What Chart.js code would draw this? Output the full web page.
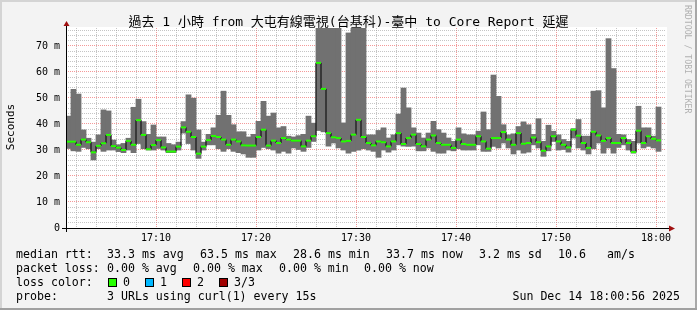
<!DOCTYPE html>
<html>
<head>
<meta charset="utf-8">
<script src="https://cdn.jsdelivr.net/npm/chart.js@4.4.1/dist/chart.umd.min.js"></script>
<style>
  body { margin: 0; background: #fff; }
  #frame { position: relative; width: 697px; height: 310px; background: #f3f3f3; overflow: hidden;
           font-family: "DejaVu Sans Mono", "Noto Sans CJK TC", monospace; color: #000; }
  #chart { position: absolute; left: 0; top: 0; }
  .edge { position: absolute; }
  .t { position: absolute; white-space: pre; font-size: 11.6px; line-height: 14px; }
  .box { position: absolute; width: 7px; height: 7px; border: 1px solid #000; }
  #title { position: absolute; left: 0; top: 14px; width: 697px; text-align: center; font-size: 13px; line-height: 15px; white-space: pre; }
  #ylabel { position: absolute; left: -39px; top: 120px; width: 100px; text-align: center; font-size: 11px; line-height: 14px;
            transform: rotate(-90deg); }
  #brand { position: absolute; left: 684px; top: 5px; writing-mode: vertical-rl; font-size: 8.2px; line-height: 8px;
           color: #b0b0b0; white-space: pre; }
</style>
</head>
<body>
<div id="frame">
  <canvas id="chart" width="697" height="310"></canvas>
  <div id="title">過去 1 小時 from 大屯有線電視(台基科)-臺中 to Core Report 延遲</div>
  <div id="ylabel">Seconds</div>
  <div id="brand">RRDTOOL / TOBI OETIKER</div>

  <div class="t" style="left:16px;top:247px">median rtt:</div>
  <div class="t" style="left:107px;top:247px">33.3 ms avg</div>
  <div class="t" style="left:200px;top:247px">63.5 ms max</div>
  <div class="t" style="left:293px;top:247px">28.6 ms min</div>
  <div class="t" style="left:386px;top:247px">33.7 ms now</div>
  <div class="t" style="left:479px;top:247px">3.2 ms sd</div>
  <div class="t" style="left:558px;top:247px">10.6</div>
  <div class="t" style="left:607px;top:247px">am/s</div>

  <div class="t" style="left:16px;top:261px">packet loss:</div>
  <div class="t" style="left:107px;top:261px">0.00 % avg</div>
  <div class="t" style="left:193px;top:261px">0.00 % max</div>
  <div class="t" style="left:279px;top:261px">0.00 % min</div>
  <div class="t" style="left:364px;top:261px">0.00 % now</div>

  <div class="t" style="left:16px;top:275px">loss color:</div>
  <div class="box" style="left:108px;top:278px;background:#26ff00"></div>
  <div class="t" style="left:123px;top:275px">0</div>
  <div class="box" style="left:145px;top:278px;background:#00b8ff"></div>
  <div class="t" style="left:160px;top:275px">1</div>
  <div class="box" style="left:182px;top:278px;background:#ff0000"></div>
  <div class="t" style="left:197px;top:275px">2</div>
  <div class="box" style="left:219px;top:278px;background:#a00000"></div>
  <div class="t" style="left:234px;top:275px">3/3</div>

  <div class="t" style="left:16px;top:289px">probe:</div>
  <div class="t" style="left:107px;top:289px">3 URLs using curl(1) every 15s</div>
  <div class="t" style="right:17px;top:289px">Sun Dec 14 18:00:56 2025</div>

  <div class="edge" style="left:0;top:0;width:697px;height:2px;background:#d4d4d4"></div>
  <div class="edge" style="left:0;top:0;width:2px;height:310px;background:#d4d4d4"></div>
  <div class="edge" style="left:695px;top:0;width:2px;height:310px;background:#a8a8a8"></div>
  <div class="edge" style="left:0;top:308px;width:697px;height:2px;background:#a0a0a0"></div>
</div>
<script>
// one bin every 30 s, first bin centred at 17:01:15 (minutes after 17:00)
const firstMinute = 1.25;
const stepMinutes = 0.5;

// smoke range (ms), bars above the top of the graph are clipped
const rttMin = [
  30.6, 29.7, 29.5, 31, 30.5, 26.2, 30.5, 29.5, 30, 30,
  29.4, 29, 30, 29, 32.5, 30.5, 30, 30, 30.6, 30,
  29, 29, 30, 36.5, 32.5, 30, 26.8, 30, 32, 32,
  30.5, 29.5, 30.5, 29.5, 29, 28.5, 27.2, 27.2, 30, 31,
  30.5, 30, 28.8, 29.5, 28.8, 30.8, 30.2, 29.5, 31, 33.3,
  37.5, 37, 31.5, 32.7, 30.8, 30, 28.8, 29.5, 30, 30.5,
  30, 29.5, 27.2, 30, 29.2, 30, 32, 31.5, 31.4, 31.5,
  29.7, 29.7, 30.8, 29.5, 28.8, 28.8, 30, 29.7, 30.5, 30,
  30, 30, 32, 29.5, 29.5, 31.4, 30.8, 32.7, 30.8, 28.5,
  30, 28.8, 29.2, 32, 30.8, 27.6, 29.7, 33.3, 30, 30.2,
  29.2, 34.6, 30.8, 30, 28.5, 30.5, 32.7, 28.8, 30.8, 28.8,
  31, 32, 30, 28.8, 32.7, 30.8, 31.4, 30.8, 29.5
];
const rttMax = [
  43, 53.3, 51.5, 37.7, 34.5, 33, 35.8, 45.4, 45, 33.8,
  32, 32.5, 34.5, 46.4, 49.5, 40.9, 36, 39.6, 35, 35,
  32.5, 32, 33, 40.9, 51.2, 49.9, 37.7, 33, 36, 38.5,
  43.3, 52.6, 43.3, 39.7, 37, 37, 35, 36, 41, 48.7,
  43, 44.2, 38.5, 39, 35.3, 35, 35.5, 36, 43, 40.3,
  80, 80, 80, 80, 80, 40.4, 75, 80, 80, 80,
  35.8, 35.8, 37.5, 38.5, 34.6, 35.8, 43.8, 53.8, 46.2, 38.5,
  36.5, 34.6, 36.5, 41, 37.8, 36.5, 34.6, 33.3, 38.5, 36.2,
  35.8, 35.8, 37.2, 44.6, 37.8, 58.8, 50.6, 39.7, 35.8, 36.2,
  39, 40.8, 39.7, 36, 42, 33.3, 39.5, 37.2, 35.8, 34,
  33.3, 38.2, 41.7, 35.3, 35.3, 52.6, 52.8, 46.2, 72.8, 61.3,
  36, 35.8, 34, 33.3, 46.8, 38.5, 38.5, 35.3, 46.5
];
const rttMedian = [
  33.2, 33.2, 32, 34, 33, 29.1, 31.6, 32.6, 35.8, 31.5,
  30.9, 30, 33.5, 32, 41.5, 35.8, 30.3, 31.9, 33.8, 31,
  29.4, 29.4, 31.3, 38.7, 37, 35, 28.6, 31.3, 33.8, 35.4,
  35, 34, 32, 34, 33.3, 31.8, 31.7, 31.7, 35, 37.8,
  31.7, 33.6, 32.7, 34.6, 34, 33.6, 33.6, 31.4, 33.6, 35.3,
  63.5, 53.5, 36.5, 34.9, 34.6, 33.3, 33.5, 35.9, 41.6, 35,
  32.7, 31.8, 33.3, 33, 31.4, 33.3, 36.5, 32.3, 34.6, 35.9,
  32.3, 31.4, 34, 35.6, 32.7, 32, 32, 30.8, 34, 32.3,
  32, 32, 35.3, 33.3, 30.5, 34.6, 34.6, 36.9, 34, 32,
  36.5, 32.4, 32.7, 34.8, 33, 29.7, 31.4, 35.3, 33.3, 32,
  31, 37.8, 35.5, 32.7, 30.8, 37, 35.6, 33.5, 34.6, 32.7,
  32.7, 34.6, 32.7, 29.2, 37.4, 32.7, 35.3, 34.3, 33.7
];

const timeTickMinutes = [10, 20, 30, 40, 50, 60];
const timeTickLabels = ['17:10', '17:20', '17:30', '17:40', '17:50', '18:00'];

const minutes = rttMedian.map((_, i) => firstMinute + i * stepMinutes);

const tickFont = { family: '"DejaVu Sans Mono", monospace', size: 10 };
const minorGrid = 'rgba(150,150,150,0.55)';
const majorGrid = 'rgba(240,110,110,0.7)';

const axesPlugin = {
  id: 'axes',
  beforeDraw(chart) {
    const { ctx, chartArea: a } = chart;
    ctx.save();
    ctx.fillStyle = '#fff';
    ctx.fillRect(a.left, a.top - 1, a.right - a.left + 1, a.bottom - a.top + 1);
    ctx.restore();
  },
  afterDraw(chart) {
    const { ctx, chartArea: a } = chart;
    const x0 = a.left + 0.5, y0 = a.bottom + 0.5;
    ctx.save();
    ctx.strokeStyle = '#000';
    ctx.lineWidth = 1;
    ctx.beginPath();
    ctx.moveTo(a.left - 4, y0); ctx.lineTo(a.right + 5, y0);
    ctx.moveTo(x0, a.bottom + 4); ctx.lineTo(x0, a.top - 3);
    ctx.stroke();
    ctx.fillStyle = '#a01010';
    ctx.beginPath();
    ctx.moveTo(x0, a.top - 7); ctx.lineTo(x0 - 3, a.top - 2); ctx.lineTo(x0 + 3, a.top - 2);
    ctx.closePath(); ctx.fill();
    ctx.beginPath();
    ctx.moveTo(a.right + 9, y0); ctx.lineTo(a.right + 3, y0 - 3); ctx.lineTo(a.right + 3, y0 + 3);
    ctx.closePath(); ctx.fill();
    ctx.restore();
  }
};

new Chart(document.getElementById('chart'), {
  data: {
    datasets: [
      {
        type: 'line',
        order: 0,
        data: minutes.map((m, i) => ({ x: m, y: rttMedian[i] })),
        showLine: false,
        pointStyle: 'line',
        pointRadius: 2.5,
        pointBorderWidth: 2,
        pointBorderColor: '#26ff00'
      },
      {
        type: 'line',
        order: 1,
        data: minutes.map((m, i) => ({ x: m, y: rttMedian[i] })),
        stepped: 'middle',
        borderColor: '#000',
        borderWidth: 1,
        pointRadius: 0
      },
      {
        type: 'bar',
        order: 2,
        data: minutes.map((m, i) => ({ x: m, y: [rttMin[i], rttMax[i]] })),
        backgroundColor: '#717171',
        borderWidth: 0,
        barThickness: 5,
        inflateAmount: 0.4
      }
    ]
  },
  options: {
    responsive: false,
    animation: false,
    devicePixelRatio: 1,
    layout: { padding: { top: 28, right: 31, left: 0, bottom: 0 } },
    plugins: { legend: { display: false }, tooltip: { enabled: false } },
    scales: {
      x: {
        type: 'linear',
        offset: false,
        min: 1,
        max: 61,
        afterFit: s => { s.height = 82; },
        afterBuildTicks: s => {
          const t = [];
          for (let v = 2; v <= 60; v += 2) t.push({ value: v });
          s.ticks = t;
        },
        ticks: {
          autoSkip: false,
          maxRotation: 0,
          padding: 4,
          color: '#000',
          font: tickFont,
          callback: v => {
            const k = timeTickMinutes.indexOf(v);
            return k >= 0 ? timeTickLabels[k] : '';
          }
        },
        grid: {
          offset: false,
          drawTicks: false,
          color: c => (c.tick && c.tick.value % 10 === 0 ? majorGrid : minorGrid)
        },
        border: { display: false, dash: [1, 1] }
      },
      y: {
        min: 0,
        max: 76.92,
        afterFit: s => { s.width = 66; },
        afterBuildTicks: s => {
          const t = [];
          for (let v = 0; v <= 76; v += 2) t.push({ value: v });
          s.ticks = t;
        },
        ticks: {
          autoSkip: false,
          padding: 6,
          color: '#000',
          font: tickFont,
          callback: v => (v === 0 ? '0' : v % 10 === 0 ? v + ' m' : '')
        },
        grid: {
          drawTicks: false,
          color: c => (c.tick && c.tick.value % 10 === 0 && c.tick.value > 0 ? majorGrid : minorGrid)
        },
        border: { display: false, dash: [1, 1] }
      }
    }
  },
  plugins: [axesPlugin]
});
</script>
</body>
</html>
